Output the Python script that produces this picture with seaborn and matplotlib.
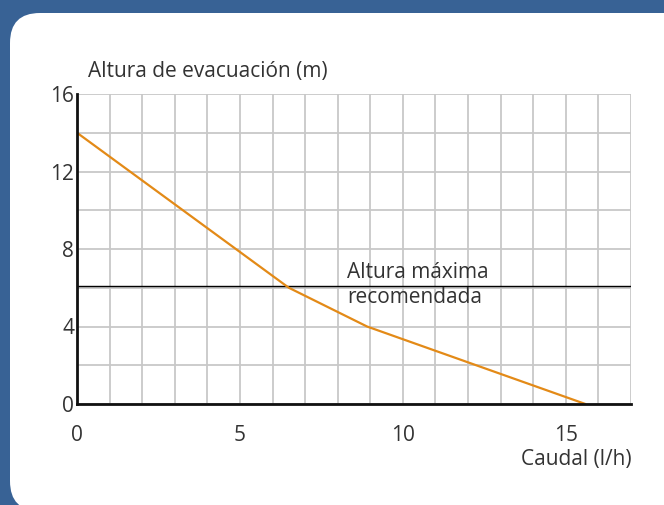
import matplotlib.pyplot as plt
import seaborn as sns
import pandas as pd
from matplotlib.patches import FancyBboxPatch
from matplotlib.ticker import MultipleLocator

# data
caudal = [0, 6.5, 8.9, 15.6]
altura = [14, 6.0, 4.0, 0]
altura_max = 6.1
x_ticks = [0, 5, 10, 15]
y_ticks = [0, 4, 8, 12, 16]

sns.set_style("white")
plt.rcParams["font.family"] = ["Open Sans", "DejaVu Sans"]
TEXT = "#333333"
FS = 15

fig = plt.figure(figsize=(6.64, 5.05), dpi=100)
fig.patch.set_facecolor("#386295")

# white rounded card behind everything (bottom-left corner just visible)
card = FancyBboxPatch((10 / 664, -6 / 505), 1.2, 1 - 13 / 505 + 6 / 505,
                      boxstyle="round,pad=0,rounding_size=0.045",
                      transform=fig.transFigure, facecolor="white",
                      edgecolor="none", mutation_aspect=664 / 505, zorder=-10)
fig.patches.append(card)

ax = fig.add_axes([77 / 664, 1 - 404 / 505, (631 - 77) / 664, (404 - 94) / 505])
ax.set_zorder(1)
ax.set_facecolor("white")

df = pd.DataFrame({"caudal": caudal, "altura": altura})
sns.lineplot(data=df, x="caudal", y="altura", color="#e38a17", lw=1.6, ax=ax, zorder=4)
ax.axhline(altura_max, color="black", lw=1.0, zorder=3)

ax.set_xlim(0, 17)
ax.set_ylim(0, 16)
ax.set_xticks(x_ticks)
ax.set_yticks(y_ticks)
ax.xaxis.set_minor_locator(MultipleLocator(1))
ax.yaxis.set_minor_locator(MultipleLocator(2))
ax.grid(which="both", color="#c8c8c8", lw=1.3, zorder=0)
ax.set_axisbelow(True)
ax.tick_params(which="both", length=0)
ax.tick_params(axis="x", pad=15, labelsize=FS, labelcolor=TEXT)
ax.tick_params(axis="y", pad=2, labelsize=FS, labelcolor=TEXT)
for s in ["top", "right"]:
    ax.spines[s].set_visible(False)
for s in ["left", "bottom"]:
    ax.spines[s].set_color("#111111")
    ax.spines[s].set_linewidth(2.0)
    ax.spines[s].set_zorder(5)
ax.set_xlabel("")
ax.set_ylabel("")

ax.text(8.3, altura_max + 0.05, "Altura máxima\nrecomendada", va="center", ha="left",
        fontsize=FS, color=TEXT, linespacing=1.25, zorder=6)

fig.text(88 / 664, 1 - 72 / 505, "Altura de evacuación (m)", fontsize=FS,
         color=TEXT, ha="left", va="center", zorder=6)
fig.text(632 / 664, 1 - 460 / 505, "Caudal (l/h)", fontsize=FS,
         color=TEXT, ha="right", va="center", zorder=6)

fig.savefig("out.png", dpi=100, facecolor=fig.get_facecolor())
